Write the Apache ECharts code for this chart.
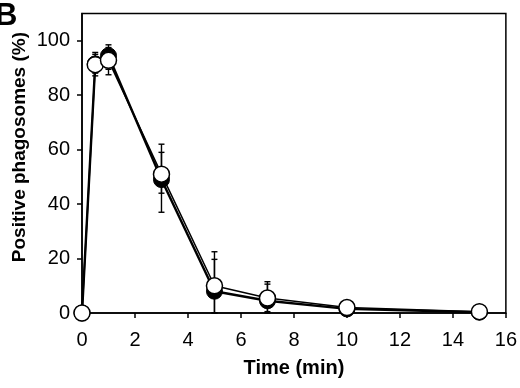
<!DOCTYPE html>
<html><head><meta charset="utf-8">
<script src="https://cdn.jsdelivr.net/npm/echarts@6/dist/echarts.min.js"></script>
<style>html,body{margin:0;padding:0;background:#fff}#c{width:520px;height:388px}</style>
</head><body><div id="c"></div>
<script>
var times = [0, 0.5, 1, 3, 5, 7, 10, 15];
var filledValues = [0, 91.5, 94.5, 49, 8, 4.5, 1.5, 0.3];
var filledLow = [0, 88.1, 89.5, 37, 0, 0, 1.5, 0.3];
var filledHigh = [0, 95, 98.5, 62, 22.5, 11.5, 1.5, 0.3];
var openValues = [0, 91.2, 92.8, 51, 10, 5.5, 2, 0.5];
var openLow = [0, 87.1, 87.5, 44, 0, 0.5, 2, 0.5];
var openHigh = [0, 95.7, 97.5, 59, 19.7, 10.6, 2, 0.5];
var xTicks = [0, 2, 4, 6, 8, 10, 12, 14, 16];
var yTicks = [0, 20, 40, 60, 80, 100];

function pairs(xs, ys){ return xs.map(function(x,i){return [x, ys[i]];}); }
function errData(xs, lo, hi){ return xs.map(function(x,i){return [x, lo[i], hi[i]];}).filter(function(d){return d[2]-d[1] > 0.01;}); }
function errRender(params, api){
  var x = api.value(0), lo = api.value(1), hi = api.value(2);
  var pl = api.coord([x, lo]), ph = api.coord([x, hi]);
  var w = 3;
  var st = {stroke:'#000', lineWidth:1.4};
  return {type:'group', children:[
    {type:'line', shape:{x1:pl[0],y1:pl[1],x2:ph[0],y2:ph[1]}, style:st},
    {type:'line', shape:{x1:ph[0]-w,y1:ph[1],x2:ph[0]+w,y2:ph[1]}, style:st},
    {type:'line', shape:{x1:pl[0]-w,y1:pl[1],x2:pl[0]+w,y2:pl[1]}, style:st}
  ]};
}
var font = '"Liberation Sans", Arial, Helvetica, sans-serif';
var chart = echarts.init(document.getElementById('c'), null, {renderer:'canvas'});
chart.setOption({
  animation:false,
  backgroundColor:'#fff',
  graphic:[
    {type:'text', x:-5, y:32, style:{text:'B', font:'bold 31px ' + font, fill:'#000', verticalAlign:'bottom', align:'left'}},
    {type:'text', left:10, top:32, rotation:Math.PI/2,
      style:{text:'Positive phagosomes (%)', fill:'#000', font:'bold 19px ' + font}}],
  grid:{left:82, right:12, top:13.5, bottom:75, show:true, borderColor:'#000', borderWidth:1.5, backgroundColor:'transparent'},
  xAxis:{type:'value', min:0, max:16, interval:2,
    name:'Time (min)', nameLocation:'middle', nameGap:45,
    nameTextStyle:{fontSize:20, fontWeight:'bold', color:'#000', fontFamily:font},
    axisLine:{show:true, onZero:false, lineStyle:{color:'#000', width:1.5}},
    axisTick:{show:true, inside:false, length:5, lineStyle:{color:'#000', width:1.5}, customValues:xTicks},
    axisLabel:{fontSize:20, color:'#000', margin:17, fontFamily:font, customValues:xTicks},
    splitLine:{show:false}},
  yAxis:{type:'value', min:0, max:110, interval:20,
    axisLine:{show:true, onZero:false, lineStyle:{color:'#000', width:1.5}},
    axisTick:{show:true, inside:false, length:5, lineStyle:{color:'#000', width:1.5}, customValues:yTicks},
    axisLabel:{fontSize:20, color:'#000', margin:12, fontFamily:font, customValues:yTicks},
    splitLine:{show:false}},
  series:[
    {type:'custom', renderItem:errRender, data:errData(times, filledLow, filledHigh), z:1, clip:false},
    {type:'custom', renderItem:errRender, data:errData(times, openLow, openHigh), z:1, clip:false},
    {type:'line', data:pairs(times, filledValues), symbol:'circle', symbolSize:16, clip:false,
      lineStyle:{color:'#000', width:2.4}, itemStyle:{color:'#000', borderColor:'#000', borderWidth:1}, z:2},
    {type:'line', data:pairs(times, openValues), symbol:'circle', symbolSize:16, clip:false,
      lineStyle:{color:'#000', width:1.5}, itemStyle:{color:'#fff', borderColor:'#000', borderWidth:1.5}, z:3}
  ]
});
</script></body></html>
